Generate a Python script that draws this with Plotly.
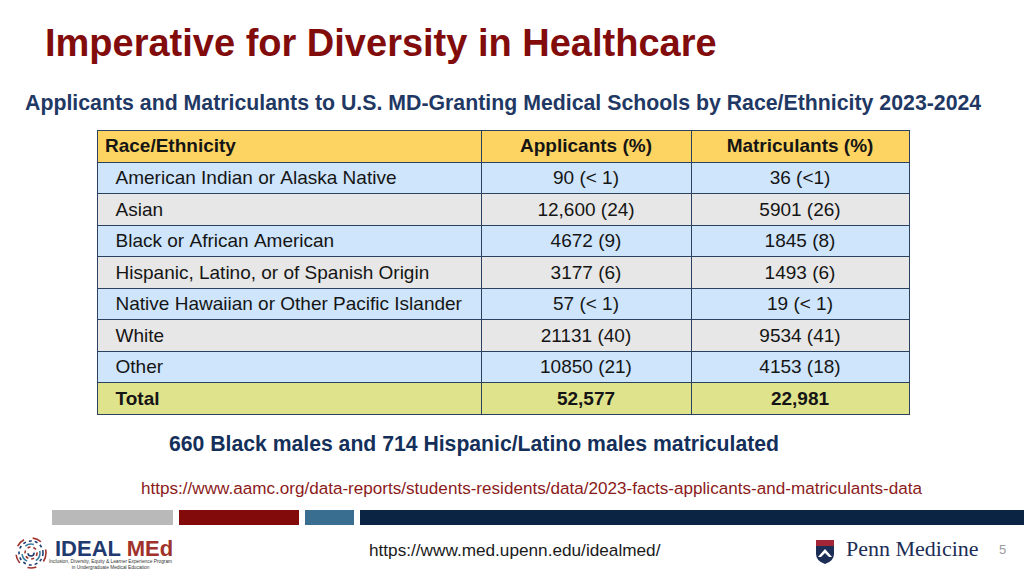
import numpy as np
import plotly.graph_objects as go

# ---------------- data ----------------
title = "Imperative for Diversity in Healthcare"
subtitle = "Applicants and Matriculants to U.S. MD-Granting Medical Schools by Race/Ethnicity 2023-2024"
columns = ["Race/Ethnicity", "Applicants (%)", "Matriculants (%)"]
groups = [
    "American Indian or Alaska Native",
    "Asian",
    "Black or African American",
    "Hispanic, Latino, or of Spanish Origin",
    "Native Hawaiian or Other Pacific Islander",
    "White",
    "Other",
]
applicants_n = ["90", "12,600", "4672", "3177", "57", "21131", "10850"]
applicants_pct = ["< 1", "24", "9", "6", "< 1", "40", "21"]
matriculants_n = ["36", "5901", "1845", "1493", "19", "9534", "4153"]
matriculants_pct = ["<1", "26", "8", "6", "< 1", "41", "18"]
total_label = "Total"
total_applicants = "52,577"
total_matriculants = "22,981"
note = "660 Black males and 714 Hispanic/Latino males matriculated"
source_url = "https://www.aamc.org/data-reports/students-residents/data/2023-facts-applicants-and-matriculants-data"
footer_url = "https://www.med.upenn.edu/idealmed/"
page_number = "5"

# ---------------- styling ----------------
FONT = "Liberation Sans, Arial, sans-serif"
W, H = 1024, 576
BLUE_ROW = "#cfe5fb"
GRAY_ROW = "#e7e7e7"
TOTAL_ROW = "#dfe38c"
HEADER = "#fdd461"
BORDER = "#2b4160"
TEXT = "#151515"
NBSP = "\u00a0"
TABLE_TOP = 130
HEADER_H = 32
ROW_H = 31.5
COL_W = [384, 210, 218]
ALIGN = ["left", "center", "center"]


def px(x):
    return x / W


def py(y):
    return 1 - y / H


def nb(s):
    # non-breaking spaces keep plotly from wrapping / re-measuring the cells
    return s.replace(" ", NBSP)


row_fills = [BLUE_ROW if i % 2 == 0 else GRAY_ROW for i in range(len(groups))]
col1 = [NBSP * 2 + nb(g) for g in groups]
# the "(pct)" part is passed as a cell suffix so the cell value itself stays plain text
suffixes = np.array([
    [""] * len(groups),
    [NBSP + "(" + nb(p) + ")" for p in applicants_pct],
    [NBSP + "(" + nb(p) + ")" for p in matriculants_pct],
])

body_bottom = TABLE_TOP + HEADER_H + ROW_H * len(groups)

fig = go.Figure()
fig.add_trace(go.Table(
    domain=dict(x=[px(97), px(909)], y=[py(body_bottom + 2), py(TABLE_TOP)]),
    columnwidth=COL_W,
    header=dict(
        values=[nb(c) for c in columns],
        fill_color=HEADER,
        line=dict(color=BORDER, width=1),
        align=ALIGN,
        font=dict(family=FONT, size=19, color=TEXT, weight="bold"),
        height=HEADER_H,
    ),
    cells=dict(
        values=[col1, applicants_n, matriculants_n],
        suffix=suffixes,
        fill_color=[row_fills, row_fills, row_fills],
        line=dict(color=BORDER, width=1),
        align=ALIGN,
        font=dict(family=FONT, size=19, color=TEXT),
        height=ROW_H,
    ),
))
# total row, drawn as a bold one-row table directly under the body
fig.add_trace(go.Table(
    domain=dict(x=[px(97), px(909)], y=[py(body_bottom + 40), py(body_bottom)]),
    columnwidth=COL_W,
    header=dict(
        values=[NBSP * 2 + total_label, total_applicants, total_matriculants],
        fill_color=TOTAL_ROW,
        line=dict(color=BORDER, width=1),
        align=ALIGN,
        font=dict(family=FONT, size=19, color=TEXT, weight="bold"),
        height=ROW_H,
    ),
    cells=dict(values=[[], [], []], height=1, line=dict(width=0), fill_color="rgba(0,0,0,0)"),
))


def note_ann(x, y, text, size, color, family=FONT, xanchor="left", align="left"):
    return dict(x=px(x), y=py(y), xref="paper", yref="paper", text=text, showarrow=False,
                font=dict(family=family, size=size, color=color), xanchor=xanchor,
                yanchor="middle", align=align)


annotations = [
    note_ann(43, 43, "<b>" + title + "</b>", 38, "#820c0c"),
    note_ann(23, 103, "<b>" + subtitle + "</b>", 21.3, "#1f3864"),
    note_ann(167, 444, "<b>" + note + "</b>", 21.2, "#14305a"),
    note_ann(139, 488, source_url, 17.1, "#8b1a1a"),
    note_ann(367, 550, footer_url, 17.2, "#1a1a1a"),
    note_ann(1002, 549, page_number, 13, "#9a9a9a", xanchor="center"),
    note_ann(53, 548, "<b><span style='color:#1f3a6e'>IDEAL</span> <span style='color:#a0322c'>MEd</span></b>", 22, "#1f3a6e"),
    note_ann(110, 564, "Inclusion, Diversity, Equity & Learner Experience Program<br>in Undergraduate Medical Education",
             4.8, "#333333", xanchor="center", align="center"),
    note_ann(844, 548, "Penn Medicine", 22, "#1c2d56", family="Liberation Serif, DejaVu Serif, serif"),
]

shapes = [
    # decorative bars
    dict(type="rect", xref="paper", yref="paper", x0=px(52), x1=px(173), y0=py(525), y1=py(510), fillcolor="#b9b9b9", line=dict(width=0)),
    dict(type="rect", xref="paper", yref="paper", x0=px(179), x1=px(299), y0=py(525), y1=py(510), fillcolor="#820a0a", line=dict(width=0)),
    dict(type="rect", xref="paper", yref="paper", x0=px(305), x1=px(354), y0=py(525), y1=py(510), fillcolor="#3a6e90", line=dict(width=0)),
    dict(type="rect", xref="paper", yref="paper", x0=px(360), x1=px(1024), y0=py(525), y1=py(510), fillcolor="#0b2444", line=dict(width=0)),
]

# fingerprint-like icon
fp_colors = ["#1f3a6e", "#a0322c", "#3a7ea0", "#1f3a6e", "#a0322c", "#3a7ea0"]
for i, r in enumerate([3, 6, 9, 12, 15]):
    cx, cy = 31, 553
    shapes.append(dict(type="circle", xref="paper", yref="paper",
                       x0=px(cx - r), x1=px(cx + r), y0=py(cy + r), y1=py(cy - r),
                       line=dict(color=fp_colors[i], width=1.6, dash="dot" if i % 2 else "dash")))

# Penn shield
shapes += [
    dict(type="path", xref="paper", yref="paper",
         path=f"M {px(816)} {py(541)} L {px(834)} {py(541)} L {px(834)} {py(554)} Q {px(834)} {py(561)} {px(825)} {py(564)} Q {px(816)} {py(561)} {px(816)} {py(554)} Z",
         fillcolor="#1c2d56", line=dict(width=0)),
    dict(type="rect", xref="paper", yref="paper", x0=px(816), x1=px(834), y0=py(546), y1=py(540), fillcolor="#a32638", line=dict(width=0)),
    dict(type="path", xref="paper", yref="paper",
         path=f"M {px(818)} {py(557)} L {px(825)} {py(549)} L {px(832)} {py(557)} L {px(829)} {py(557)} L {px(825)} {py(553)} L {px(821)} {py(557)} Z",
         fillcolor="white", line=dict(width=0)),
]

fig.update_layout(
    width=W, height=H,
    margin=dict(l=0, r=0, t=0, b=0),
    paper_bgcolor="white", plot_bgcolor="white",
    annotations=annotations, shapes=shapes,
    showlegend=False,
)

fig.write_html("out.html", config={"displayModeBar": False},
               post_script="document.body.style.margin='0';document.body.style.overflow='hidden';")
